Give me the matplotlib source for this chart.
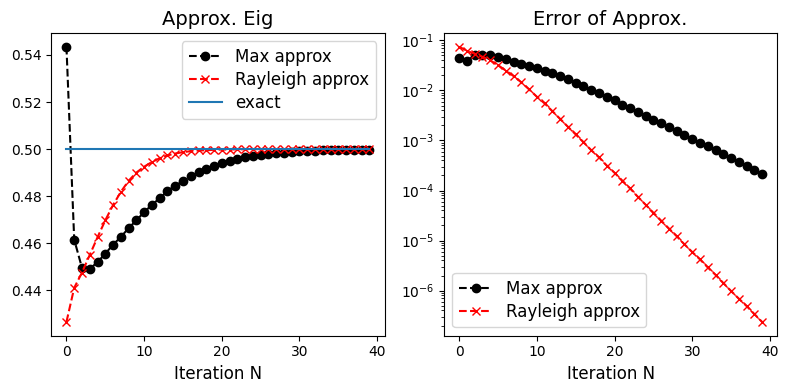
import matplotlib
matplotlib.use("Agg")
import matplotlib.pyplot as plt
import numpy as np

iterations = list(range(40))
exact_value = 0.5

max_approx = [0.5435, 0.4615, 0.4495, 0.4490, 0.4520, 0.4555, 0.4594, 0.4626, 0.4664, 0.4697,
              0.4732, 0.4763, 0.4791, 0.4821, 0.4845, 0.4863, 0.4886, 0.4901, 0.4916, 0.4930,
              0.4941, 0.4949, 0.4958, 0.4965, 0.4971, 0.4975, 0.4979, 0.4982, 0.4985, 0.4988,
              0.4990, 0.4992, 0.4993, 0.4994, 0.4995, 0.4996, 0.4997, 0.4997, 0.4998, 0.4998]

rayleigh_approx = [0.4265, 0.4410, 0.4475, 0.4550, 0.4625, 0.4697, 0.4762, 0.4818, 0.4865, 0.4900,
                   0.4925, 0.4945, 0.4961, 0.4973, 0.4981, 0.4987, 0.4991, 0.4994, 0.4995, 0.4997,
                   0.4998, 0.4998, 0.4999, 0.4999, 0.4999, 0.5000, 0.5000, 0.5000, 0.5000, 0.5000,
                   0.5000, 0.5000, 0.5000, 0.5000, 0.5000, 0.5000, 0.5000, 0.5000, 0.5000, 0.5000]

max_error = [0.0437, 0.038, 0.052, 0.052, 0.050, 0.046, 0.042, 0.037, 0.0336, 0.0307,
             0.0275, 0.0247, 0.0222, 0.0194, 0.0166, 0.0142, 0.0122, 0.0103, 0.0087, 0.0075,
             0.0063, 0.0052, 0.0044, 0.0037, 0.0031, 0.0026, 0.0022, 0.00185, 0.00154, 0.00128,
             0.00108, 0.00090, 0.00076, 0.00064, 0.00053, 0.00044, 0.00037, 0.00031, 0.00026, 0.000215]

rayleigh_error = [0.0747, 0.062, 0.054, 0.047, 0.040, 0.032, 0.025, 0.0194, 0.0145, 0.0105,
                  0.0075, 0.0055, 0.00386, 0.0027, 0.00188, 0.00132, 0.00093, 0.00064, 0.00046, 0.000316,
                  0.000226, 0.000158, 0.00011, 7.5e-5, 5.2e-5, 3.6e-5, 2.5e-5, 1.74e-5, 1.22e-5, 8.4e-6,
                  5.9e-6, 4.2e-6, 2.9e-6, 2.06e-6, 1.42e-6, 9.8e-7, 6.9e-7, 4.9e-7, 3.4e-7, 2.36e-7]

fig, (ax1, ax2) = plt.subplots(1, 2, figsize=(7.88, 3.9), dpi=100)
fig.subplots_adjust(left=0.0651, right=0.9864, top=0.9154, bottom=0.1392, wspace=0.1784)

ax1.plot(iterations, max_approx, 'ko--', label='Max approx')
ax1.plot(iterations, rayleigh_approx, 'rx--', label='Rayleigh approx')
ax1.plot([iterations[0], iterations[-1]], [exact_value, exact_value], label='exact')
ax1.set_title('Approx. Eig', fontsize=14)
ax1.set_xlabel('Iteration N', fontsize=12)
ax1.legend(fontsize=12, loc='upper right', labelspacing=0.3)

ax2.semilogy(iterations, max_error, 'ko--', label='Max approx')
ax2.semilogy(iterations, rayleigh_error, 'rx--', label='Rayleigh approx')
ax2.set_title('Error of Approx.', fontsize=14)
ax2.set_xlabel('Iteration N', fontsize=12)
ax2.legend(fontsize=12, loc='lower left', labelspacing=0.3)

fig.savefig('out.png', dpi=100)
